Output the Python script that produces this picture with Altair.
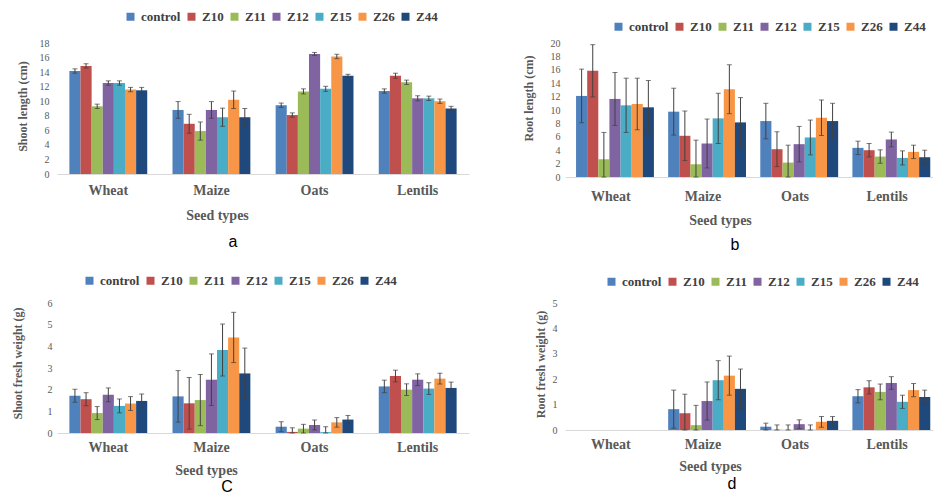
import altair as alt
import pandas as pd

seeds = ["Wheat", "Maize", "Oats", "Lentils"]
treatments = ["control", "Z10", "Z11", "Z12", "Z15", "Z26", "Z44"]
colors = ["#4F81BD", "#C0504D", "#9BBB59", "#8064A2", "#4BACC6", "#F79646", "#1F497D"]

# (a) Shoot length (cm)
shoot_len = {
    "Wheat":   [14.15, 14.85, 9.3, 12.5, 12.5, 11.6, 11.5],
    "Maize":   [8.8, 6.9, 5.9, 8.8, 7.8, 10.2, 7.8],
    "Oats":    [9.45, 8.1, 11.35, 16.5, 11.7, 16.15, 13.5],
    "Lentils": [11.4, 13.5, 12.6, 10.4, 10.4, 10.0, 9.0],
}
shoot_len_err = {
    "Wheat":   [0.3, 0.3, 0.3, 0.3, 0.3, 0.3, 0.4],
    "Maize":   [1.15, 1.3, 1.25, 1.15, 1.25, 1.2, 1.2],
    "Oats":    [0.3, 0.3, 0.35, 0.2, 0.35, 0.3, 0.2],
    "Lentils": [0.3, 0.35, 0.3, 0.35, 0.3, 0.3, 0.3],
}
# (b) Root length (cm)
root_len = {
    "Wheat":   [12.1, 15.85, 2.65, 11.65, 10.7, 10.9, 10.4],
    "Maize":   [9.75, 6.15, 1.9, 5.0, 8.75, 13.1, 8.15],
    "Oats":    [8.35, 4.15, 2.15, 4.9, 5.9, 8.85, 8.35],
    "Lentils": [4.35, 4.0, 3.05, 5.6, 2.85, 3.75, 2.95],
}
root_len_err = {
    "Wheat":   [4.0, 3.9, 4.0, 3.95, 4.05, 3.85, 4.0],
    "Maize":   [3.5, 3.7, 3.6, 3.65, 3.75, 3.65, 3.7],
    "Oats":    [2.65, 2.6, 2.6, 2.65, 2.6, 2.65, 2.65],
    "Lentils": [1.0, 1.0, 1.0, 1.1, 1.05, 1.0, 1.05],
}
# (C) Shoot fresh weight (g)
shoot_fw = {
    "Wheat":   [1.72, 1.56, 0.92, 1.76, 1.25, 1.36, 1.48],
    "Maize":   [1.69, 1.37, 1.52, 2.46, 3.83, 4.41, 2.75],
    "Oats":    [0.29, 0.05, 0.2, 0.37, 0.04, 0.49, 0.62],
    "Lentils": [2.15, 2.63, 2.0, 2.46, 2.05, 2.51, 2.08],
}
shoot_fw_err = {
    "Wheat":   [0.3, 0.3, 0.3, 0.32, 0.32, 0.32, 0.32],
    "Maize":   [1.19, 1.19, 1.18, 1.19, 1.2, 1.16, 1.17],
    "Oats":    [0.23, 0.19, 0.2, 0.23, 0.25, 0.22, 0.19],
    "Lentils": [0.29, 0.27, 0.27, 0.27, 0.27, 0.25, 0.27],
}
# (d) Root fresh weight (g)
root_fw = {
    "Wheat":   [0, 0, 0, 0, 0, 0, 0],
    "Maize":   [0.82, 0.66, 0.19, 1.14, 1.96, 2.14, 1.62],
    "Oats":    [0.13, 0.01, 0.01, 0.23, 0.01, 0.32, 0.36],
    "Lentils": [1.33, 1.68, 1.5, 1.85, 1.11, 1.57, 1.3],
}
root_fw_err = {
    "Wheat":   [0, 0, 0, 0, 0, 0, 0],
    "Maize":   [0.75, 0.75, 0.78, 0.75, 0.77, 0.77, 0.78],
    "Oats":    [0.14, 0.19, 0.19, 0.17, 0.19, 0.21, 0.17],
    "Lentils": [0.26, 0.26, 0.31, 0.25, 0.26, 0.26, 0.27],
}

SERIF = "Liberation Serif"
GRAY = "#595959"
EC = "#404040"


def make_df(vals, errs):
    rows = []
    for s in seeds:
        for t, v, e in zip(treatments, vals[s], errs[s]):
            rows.append({"seed": s, "trt": t, "v": v, "e": e,
                         "lo": max(v - e, 0), "hi": v + e})
    return pd.DataFrame(rows)


def panel(df, ymax, ystep, ytitle, sub, w, h, p):
    base = alt.Chart(df)
    x = alt.X("seed:N", sort=seeds,
              scale=alt.Scale(paddingInner=0.245, paddingOuter=0.12),
              axis=alt.Axis(title="Seed types", labelAngle=0, labelFont=SERIF,
                            labelFontWeight="bold", labelFontSize=14, labelColor=GRAY,
                            labelPadding=p["xlp"], domainColor="#d9d9d9", ticks=False,
                            titleFont=SERIF, titleFontWeight="bold", titleFontSize=14,
                            titleColor=GRAY, titleX=p["xtx"], titleY=p["xty"],
                            titleBaseline="middle", titleAlign="center"))
    xo = alt.XOffset("trt:N", sort=treatments)
    yaxis = alt.Axis(values=list(range(0, ymax + 1, ystep)), title=ytitle, grid=False,
                     domain=False, ticks=False, labelFont=SERIF, labelFontSize=10,
                     labelColor=GRAY, labelPadding=p["ylp"], labelOverlap=False,
                     labelSeparation=0, titleFont=SERIF,
                     titleFontSize=12, titleFontWeight="bold", titleColor=GRAY,
                     titleX=p["ytx"], titleY=p["yty"], titleAngle=270,
                     titleAlign="center", titleBaseline="middle")
    yscale = alt.Scale(domain=[0, ymax], nice=False)
    bars = base.mark_bar().encode(
        x=x, xOffset=xo,
        y=alt.Y("v:Q", scale=yscale, axis=yaxis),
        color=alt.Color("trt:N", sort=treatments,
                        scale=alt.Scale(domain=treatments, range=colors),
                        legend=alt.Legend(orient="none", legendX=p["lx"], legendY=p["ly"],
                                          direction="horizontal", title=None,
                                          symbolType="square", symbolSize=64,
                                          symbolStrokeWidth=0, labelFont=SERIF,
                                          labelFontSize=13, labelFontWeight="bold",
                                          labelColor="#404040", labelOffset=4,
                                          columnPadding=4, padding=0)),
    )
    err = base.transform_filter("datum.e > 0")
    rule = err.mark_rule(color=EC, strokeWidth=1).encode(
        x=x, xOffset=xo, y=alt.Y("lo:Q", scale=yscale, axis=yaxis), y2="hi:Q")
    cap_t = err.mark_tick(color=EC, orient="horizontal", size=5, thickness=1).encode(
        x=x, xOffset=xo, y=alt.Y("hi:Q", scale=yscale, axis=yaxis))
    cap_b = err.mark_tick(color=EC, orient="horizontal", size=5, thickness=1).encode(
        x=x, xOffset=xo, y=alt.Y("lo:Q", scale=yscale, axis=yaxis))
    return alt.layer(bars, rule, cap_t, cap_b).properties(
        width=w, height=h,
        title=alt.Title(sub, orient="bottom", anchor="middle", frame="group",
                        font="Liberation Sans", fontSize=16, fontWeight="normal",
                        color="black", dx=p["sdx"], offset=p["soff"]))


pa = panel(make_df(shoot_len, shoot_len_err), 18, 2, "Shoot length (cm)", "a", 412, 131,
           dict(xlp=9, xtx=160, xty=41, ylp=8, ytx=-35, yty=63, lx=67, ly=-33, sdx=-30, soff=12))
pb = panel(make_df(root_len, root_len_err), 20, 2, "Root length (cm)", "b", 368, 134,
           dict(xlp=12, xtx=155, xty=43, ylp=5, ytx=-37, yty=55, lx=47, ly=-23, sdx=-14, soff=10))
pc = panel(make_df(shoot_fw, shoot_fw_err), 6, 1, "Shoot fresh weight (g)", "C", 412, 130,
           dict(xlp=7, xtx=149, xty=37, ylp=5, ytx=-40, yty=60, lx=26, ly=-29, sdx=-36, soff=2))
pd_ = panel(make_df(root_fw, root_fw_err), 5, 1, "Root fresh weight (g)", "d", 368, 127,
            dict(xlp=7, xtx=145, xty=36, ylp=8, ytx=-25, yty=61, lx=40, ly=-28, sdx=-17, soff=3))

chart = alt.concat(pa, pb, pc, pd_, columns=2, spacing={"row": 126, "column": 96},
                   bounds="flush").resolve_scale(color="independent").properties(
    padding={"left": 3, "top": 2, "right": 0, "bottom": 0}
).configure_view(stroke=None).configure_legend(labelFont=SERIF, labelFontWeight="bold")

chart.save("out.html", embed_options={"renderer": "svg", "actions": False})
